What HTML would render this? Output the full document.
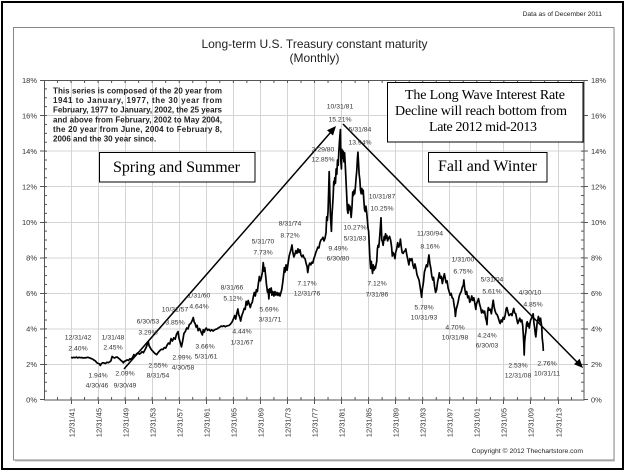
<!DOCTYPE html>
<html><head><meta charset="utf-8"><style>
html,body{margin:0;padding:0;background:#fff;}
svg{display:block;}
text{font-family:"Liberation Sans",Arial,sans-serif;}
.s{font-family:"Liberation Serif","Times New Roman",serif;fill:#000;}
.lb{font-size:6.8px;fill:#333;text-anchor:middle;}
.ax{font-size:7.5px;fill:#333;}
</style></head><body>
<svg width="626" height="471" viewBox="0 0 626 471" xmlns="http://www.w3.org/2000/svg">
<defs>
<pattern id="tx" x="70.5" y="0" width="13.528" height="20" patternUnits="userSpaceOnUse"><rect x="0" y="0" width="1" height="20" fill="#555"/></pattern>
<pattern id="ty" x="0" y="79.5" width="20" height="8.889" patternUnits="userSpaceOnUse"><rect x="0" y="0" width="20" height="1" fill="#555"/></pattern>
</defs>
<rect x="0" y="0" width="626" height="471" fill="#fff"/>
<rect x="2" y="2" width="621" height="467" fill="none" stroke="#000" stroke-width="2"/>
<rect x="13.5" y="27.5" width="600.5" height="432.5" fill="none" stroke="#888" stroke-width="1"/>
<line x1="614.5" y1="29" x2="614.5" y2="461" stroke="#bbb" stroke-width="1"/>
<line x1="15" y1="461" x2="615" y2="461" stroke="#bbb" stroke-width="1"/>

<text x="602" y="16" font-size="6.7" fill="#222" text-anchor="end">Data as of December 2011</text>
<text x="314.5" y="48" font-size="12" fill="#222" text-anchor="middle">Long-term U.S. Treasury constant maturity</text>
<text x="314.5" y="62" font-size="12" fill="#222" text-anchor="middle">(Monthly)</text>

<!-- grid -->
<g stroke="#d4d4d4" stroke-width="1">
<line x1="44" y1="364.5" x2="584" y2="364.5"/><line x1="44" y1="329" x2="584" y2="329"/>
<line x1="44" y1="293.5" x2="584" y2="293.5"/><line x1="44" y1="258" x2="584" y2="258"/>
<line x1="44" y1="222.5" x2="584" y2="222.5"/><line x1="44" y1="186.5" x2="584" y2="186.5"/>
<line x1="44" y1="151" x2="584" y2="151"/><line x1="44" y1="115.5" x2="584" y2="115.5"/>
<line x1="71.5" y1="80" x2="71.5" y2="400"/><line x1="98.5" y1="80" x2="98.5" y2="400"/>
<line x1="125.5" y1="80" x2="125.5" y2="400"/><line x1="152.5" y1="80" x2="152.5" y2="400"/>
<line x1="179.5" y1="80" x2="179.5" y2="400"/><line x1="206.5" y1="80" x2="206.5" y2="400"/>
<line x1="233.5" y1="80" x2="233.5" y2="400"/><line x1="260.5" y1="80" x2="260.5" y2="400"/>
<line x1="287.5" y1="80" x2="287.5" y2="400"/><line x1="314.5" y1="80" x2="314.5" y2="400"/>
<line x1="341.5" y1="80" x2="341.5" y2="400"/><line x1="368.5" y1="80" x2="368.5" y2="400"/>
<line x1="395.5" y1="80" x2="395.5" y2="400"/><line x1="422.5" y1="80" x2="422.5" y2="400"/>
<line x1="449.5" y1="80" x2="449.5" y2="400"/><line x1="476.5" y1="80" x2="476.5" y2="400"/>
<line x1="503.5" y1="80" x2="503.5" y2="400"/><line x1="530.5" y1="80" x2="530.5" y2="400"/>
<line x1="558.5" y1="80" x2="558.5" y2="400"/>
</g>

<!-- ticks -->
<rect x="44" y="397" width="540" height="3" fill="url(#tx)"/>
<rect x="44" y="80" width="540" height="3" fill="url(#tx)"/>
<rect x="44" y="80" width="3" height="320" fill="url(#ty)"/>
<rect x="581" y="80" width="3" height="320" fill="url(#ty)"/>
<g stroke="#555" stroke-width="1">
<path d="M40 80.5H44M40 115.5H44M40 151H44M40 186.5H44M40 222.5H44M40 258H44M40 293.5H44M40 329H44M40 364.5H44M40 399.5H44"/>
<path d="M584 80.5H588M584 115.5H588M584 151H588M584 186.5H588M584 222.5H588M584 258H588M584 293.5H588M584 329H588M584 364.5H588M584 399.5H588"/>
<path d="M71.5 400V404M98.5 400V404M125.5 400V404M152.5 400V404M179.5 400V404M206.5 400V404M233.5 400V404M260.5 400V404M287.5 400V404M314.5 400V404M341.5 400V404M368.5 400V404M395.5 400V404M422.5 400V404M449.5 400V404M476.5 400V404M503.5 400V404M530.5 400V404M558.5 400V404"/>
</g>
<rect x="44.5" y="80.5" width="539.5" height="319.5" fill="none" stroke="#555" stroke-width="1"/>

<!-- y labels -->
<g class="ax" text-anchor="end">
<text x="37" y="83">18%</text><text x="37" y="118.5">16%</text><text x="37" y="154">14%</text>
<text x="37" y="189.5">12%</text><text x="37" y="225">10%</text><text x="37" y="260.5">8%</text>
<text x="37" y="296">6%</text><text x="37" y="331.5">4%</text><text x="37" y="367">2%</text><text x="37" y="402.5">0%</text>
</g>
<g class="ax">
<text x="591" y="83">18%</text><text x="591" y="118.5">16%</text><text x="591" y="154">14%</text>
<text x="591" y="189.5">12%</text><text x="591" y="225">10%</text><text x="591" y="260.5">8%</text>
<text x="591" y="296">6%</text><text x="591" y="331.5">4%</text><text x="591" y="367">2%</text><text x="591" y="402.5">0%</text>
</g>
<!-- x labels -->
<g class="ax" text-anchor="end">
<text transform="translate(74.3 408) rotate(-90)">12/31/41</text>
<text transform="translate(101.3 408) rotate(-90)">12/31/45</text>
<text transform="translate(128.3 408) rotate(-90)">12/31/49</text>
<text transform="translate(155.3 408) rotate(-90)">12/31/53</text>
<text transform="translate(182.3 408) rotate(-90)">12/31/57</text>
<text transform="translate(209.3 408) rotate(-90)">12/31/61</text>
<text transform="translate(236.3 408) rotate(-90)">12/31/65</text>
<text transform="translate(263.3 408) rotate(-90)">12/31/69</text>
<text transform="translate(290.3 408) rotate(-90)">12/31/73</text>
<text transform="translate(317.3 408) rotate(-90)">12/31/77</text>
<text transform="translate(344.3 408) rotate(-90)">12/31/81</text>
<text transform="translate(371.3 408) rotate(-90)">12/31/85</text>
<text transform="translate(398.3 408) rotate(-90)">12/31/89</text>
<text transform="translate(425.3 408) rotate(-90)">12/31/93</text>
<text transform="translate(452.3 408) rotate(-90)">12/31/97</text>
<text transform="translate(479.3 408) rotate(-90)">12/31/01</text>
<text transform="translate(506.3 408) rotate(-90)">12/31/05</text>
<text transform="translate(533.3 408) rotate(-90)">12/31/09</text>
<text transform="translate(561.3 408) rotate(-90)">12/31/13</text>
</g>
<text x="583" y="453" font-size="6.8" fill="#222" text-anchor="end">Copyright © 2012 Thechartstore.com</text>

<!-- info text -->
<g font-size="8" font-weight="bold" fill="#222">
<text x="53" y="93.5" textLength="169" lengthAdjust="spacing">This series is composed of the 20 year from</text>
<text x="53" y="103.1" textLength="169" lengthAdjust="spacing">1941 to January, 1977, the 30 year from</text>
<text x="53" y="112.7" textLength="169" lengthAdjust="spacing">February, 1977 to January, 2002, the 25 years</text>
<text x="53" y="122.3" textLength="169" lengthAdjust="spacing">and above from February, 2002 to May 2004,</text>
<text x="53" y="131.9" textLength="169" lengthAdjust="spacing">the 20 year from June, 2004 to February 8,</text>
<text x="53" y="141.5">2006 and the 30 year since.</text>
</g>

<!-- series -->
<polyline fill="none" stroke="#000" stroke-width="1.7" stroke-linejoin="round" vector-effect="non-scaling-stroke"
transform="translate(71 400) scale(6.764 -17.778) translate(-1942 0)"
points="1942,2.40 1942.2,2.37 1942.4,2.40 1942.6,2.38 1942.8,2.41 1943,2.37 1943.2,2.40 1943.4,2.38 1943.6,2.39 1943.8,2.36 1944,2.38 1944.2,2.37 1944.4,2.40 1944.6,2.39 1944.8,2.36 1945,2.33 1945.2,2.30 1945.4,2.24 1945.6,2.20 1945.8,2.10 1946,2.06 1946.2,2.03 1946.33,1.94 1946.5,2.05 1946.7,2.10 1946.9,2.08 1947.1,2.05 1947.3,2.12 1947.5,2.10 1947.7,2.14 1947.9,2.20 1948.08,2.45 1948.25,2.40 1948.45,2.36 1948.6,2.40 1948.8,2.42 1949,2.36 1949.2,2.30 1949.4,2.22 1949.6,2.16 1949.75,2.09 1949.9,2.18 1950.1,2.20 1950.3,2.26 1950.5,2.22 1950.7,2.32 1950.9,2.28 1951.1,2.40 1951.3,2.55 1951.5,2.48 1951.7,2.60 1951.9,2.65 1952.1,2.58 1952.3,2.62 1952.5,2.72 1952.7,2.66 1952.9,2.80 1953.1,2.95 1953.25,3.10 1953.42,3.29 1953.55,3.05 1953.7,2.95 1953.85,2.85 1954,2.78 1954.2,2.70 1954.4,2.62 1954.67,2.55 1954.85,2.65 1955,2.72 1955.2,2.80 1955.4,2.86 1955.6,2.84 1955.8,2.95 1956,2.92 1956.2,3.08 1956.4,3.20 1956.6,3.15 1956.8,3.45 1957,3.32 1957.2,3.50 1957.4,3.42 1957.6,3.70 1957.83,3.85 1957.95,3.50 1958.1,3.30 1958.33,2.99 1958.5,3.30 1958.7,3.75 1958.9,3.85 1959.1,4.05 1959.3,4.00 1959.5,4.25 1959.7,4.30 1959.9,4.45 1960.08,4.64 1960.2,4.40 1960.35,4.30 1960.5,4.10 1960.65,4.20 1960.8,3.90 1961,4.02 1961.2,3.85 1961.42,3.66 1961.55,3.95 1961.7,3.82 1961.85,3.98 1962,4.05 1962.2,3.92 1962.4,3.98 1962.6,3.88 1962.8,3.95 1963,3.88 1963.2,3.94 1963.4,3.98 1963.6,4.00 1963.8,4.06 1964,4.10 1964.2,4.16 1964.4,4.13 1964.6,4.18 1964.8,4.12 1965,4.16 1965.2,4.18 1965.4,4.20 1965.6,4.28 1965.8,4.38 1966,4.55 1966.2,4.75 1966.35,4.55 1966.5,4.85 1966.67,5.12 1966.8,4.80 1966.95,4.65 1967.08,4.44 1967.25,4.75 1967.45,4.95 1967.6,5.15 1967.75,5.10 1967.9,5.55 1968.05,5.35 1968.2,5.60 1968.35,5.40 1968.5,5.20 1968.65,5.40 1968.8,5.50 1968.95,5.80 1969.1,6.05 1969.25,5.85 1969.4,6.20 1969.55,6.10 1969.7,6.55 1969.85,6.95 1970,6.70 1970.15,6.90 1970.3,7.20 1970.42,7.73 1970.55,7.25 1970.65,7.45 1970.8,6.90 1970.9,6.50 1971.05,6.05 1971.15,6.20 1971.25,5.69 1971.35,6.25 1971.5,6.05 1971.6,6.30 1971.7,5.90 1971.85,6.10 1972,5.85 1972.15,6.10 1972.3,5.90 1972.45,6.05 1972.6,5.88 1972.75,6.02 1972.9,5.85 1973,6.00 1973.15,6.20 1973.3,6.60 1973.45,7.10 1973.55,7.45 1973.65,7.20 1973.8,7.60 1973.95,7.30 1974.1,7.70 1974.25,8.10 1974.4,8.30 1974.55,8.50 1974.67,8.72 1974.8,8.30 1974.95,8.05 1975.1,8.20 1975.25,8.40 1975.4,8.25 1975.55,8.50 1975.7,8.30 1975.85,8.45 1976,8.15 1976.15,8.05 1976.3,8.15 1976.45,8.00 1976.6,7.95 1976.75,7.70 1976.9,7.50 1977,7.17 1977.15,7.55 1977.3,7.70 1977.45,7.60 1977.6,7.75 1977.75,7.70 1977.9,7.95 1978.05,8.10 1978.2,8.30 1978.35,8.45 1978.5,8.60 1978.65,8.55 1978.8,8.85 1978.95,9.00 1979.1,9.05 1979.25,9.15 1979.4,8.95 1979.55,9.10 1979.7,9.40 1979.8,10.30 1979.9,10.10 1980,10.60 1980.08,11.60 1980.17,12.85 1980.25,11.80 1980.35,10.40 1980.5,9.49 1980.58,10.40 1980.67,10.90 1980.75,11.40 1980.85,12.30 1980.92,12.10 1981,12.50 1981.1,12.20 1981.2,13.00 1981.3,12.70 1981.4,13.50 1981.5,13.20 1981.6,14.00 1981.7,14.60 1981.83,15.21 1981.9,13.40 1981.98,13.00 1982.05,14.10 1982.15,13.60 1982.25,14.00 1982.35,13.40 1982.45,13.90 1982.55,13.20 1982.65,12.40 1982.75,11.60 1982.85,10.70 1982.95,10.50 1983.05,11.00 1983.15,10.70 1983.25,10.90 1983.42,10.27 1983.55,10.90 1983.65,11.70 1983.75,11.50 1983.85,11.80 1983.95,11.60 1984.05,12.00 1984.15,12.50 1984.25,12.90 1984.35,13.60 1984.42,13.94 1984.5,13.40 1984.6,12.70 1984.7,12.40 1984.8,11.80 1984.9,11.60 1985,11.90 1985.1,11.60 1985.2,11.80 1985.3,11.20 1985.4,10.70 1985.5,10.60 1985.6,10.90 1985.7,10.60 1985.8,10.20 1985.9,9.70 1986,9.50 1986.1,8.70 1986.2,7.90 1986.3,7.40 1986.4,7.80 1986.5,7.40 1986.58,7.12 1986.68,7.60 1986.78,7.30 1986.9,7.50 1987,7.40 1987.1,7.60 1987.2,7.80 1987.3,8.50 1987.4,8.70 1987.5,8.60 1987.6,9.00 1987.7,9.50 1987.83,10.25 1987.95,9.00 1988.05,8.90 1988.15,8.70 1988.3,9.20 1988.4,9.00 1988.5,9.35 1988.6,9.10 1988.7,9.25 1988.8,8.95 1988.95,9.10 1989.1,9.20 1989.25,9.00 1989.4,8.60 1989.5,8.10 1989.6,8.30 1989.75,8.20 1989.9,7.95 1990,8.30 1990.15,8.50 1990.3,8.85 1990.45,8.60 1990.6,8.75 1990.7,9.05 1990.8,8.70 1990.95,8.30 1991.1,8.25 1991.25,8.35 1991.4,8.40 1991.5,8.50 1991.65,8.15 1991.8,7.90 1991.95,7.60 1992.1,7.95 1992.25,7.85 1992.4,7.95 1992.55,7.60 1992.7,7.40 1992.85,7.65 1993,7.40 1993.15,7.05 1993.3,6.90 1993.45,6.75 1993.6,6.40 1993.72,6.10 1993.83,5.78 1993.95,6.25 1994.1,6.60 1994.25,7.20 1994.4,7.40 1994.55,7.60 1994.7,7.50 1994.82,7.90 1994.92,8.16 1995.05,7.70 1995.2,7.40 1995.35,6.95 1995.5,6.75 1995.6,6.90 1995.75,6.40 1995.9,6.05 1996.05,6.20 1996.2,6.65 1996.35,6.90 1996.45,7.15 1996.6,6.85 1996.75,6.95 1996.9,6.55 1997.05,6.85 1997.2,7.10 1997.3,6.90 1997.45,6.60 1997.6,6.70 1997.75,6.30 1997.9,6.10 1998.05,5.90 1998.2,6.00 1998.35,5.75 1998.5,5.70 1998.65,5.30 1998.75,5.10 1998.83,4.70 1998.95,5.10 1999.1,5.30 1999.25,5.55 1999.4,5.85 1999.55,6.00 1999.7,6.10 1999.85,6.35 2000,6.45 2000.08,6.75 2000.2,6.30 2000.35,5.95 2000.5,6.10 2000.65,5.75 2000.8,5.85 2000.95,5.50 2001.1,5.60 2001.25,5.85 2001.4,5.60 2001.55,5.75 2001.7,5.45 2001.85,5.10 2001.95,5.40 2002.1,5.55 2002.25,5.70 2002.4,5.40 2002.55,5.20 2002.7,4.90 2002.85,5.05 2003,4.90 2003.15,5.00 2003.3,4.60 2003.42,4.45 2003.5,4.24 2003.6,4.95 2003.7,5.20 2003.85,5.05 2004,5.10 2004.15,4.85 2004.3,5.30 2004.42,5.61 2004.55,5.25 2004.7,5.00 2004.85,4.85 2005,4.80 2005.15,4.65 2005.3,4.45 2005.45,4.30 2005.6,4.50 2005.75,4.40 2005.9,4.65 2006.05,4.55 2006.2,4.80 2006.35,5.15 2006.45,5.20 2006.6,4.95 2006.75,4.75 2006.9,4.80 2007.05,4.85 2007.2,4.75 2007.35,5.00 2007.45,5.15 2007.6,4.90 2007.75,4.85 2007.9,4.55 2008.05,4.30 2008.2,4.45 2008.35,4.60 2008.5,4.40 2008.65,4.50 2008.78,4.20 2008.88,3.60 2008.95,3.10 2009,2.53 2009.06,3.20 2009.15,3.60 2009.25,3.85 2009.35,4.30 2009.45,4.40 2009.55,4.15 2009.65,4.30 2009.75,4.05 2009.85,4.30 2009.95,4.50 2010.1,4.60 2010.2,4.70 2010.33,4.85 2010.45,4.30 2010.55,4.05 2010.65,3.70 2010.72,3.55 2010.82,3.95 2010.9,4.30 2011,4.45 2011.1,4.70 2011.2,4.55 2011.3,4.40 2011.42,4.60 2011.52,4.30 2011.6,4.10 2011.66,3.50 2011.72,3.30 2011.78,3.10 2011.83,2.76"/>

<!-- trend arrows -->
<g stroke="#000" stroke-width="1.5" fill="none">
<line x1="124" y1="369" x2="330.5" y2="132.5"/>
<line x1="343" y1="124" x2="577" y2="362"/>
</g>
<polygon points="336,126 333,135.5 327,130.3" fill="#000"/>
<polygon points="583,368 579.6,358.8 574,364.3" fill="#000"/>

<!-- annotations -->
<g class="lb">
<text x="78" y="339.4">12/31/42</text><text x="78" y="350.4">2.40%</text>
<text x="113" y="339.4">1/31/48</text><text x="113" y="349.4">2.45%</text>
<text x="98" y="377.4">1.94%</text><text x="97" y="387.4">4/30/46</text>
<text x="125" y="375.4">2.09%</text><text x="125" y="387.4">9/30/49</text>
<text x="148" y="323.4">6/30/53</text><text x="148" y="334.4">3.29%</text>
<text x="158" y="367.4">2.55%</text><text x="158" y="377.4">8/31/54</text>
<text x="175" y="311.4">10/31/57</text><text x="175" y="324.4">3.85%</text>
<text x="199" y="297.4">1/31/60</text><text x="199" y="308.4">4.64%</text>
<text x="182" y="359.4">2.99%</text><text x="183" y="369.4">4/30/58</text>
<text x="205" y="348.4">3.66%</text><text x="206" y="358.4">5/31/61</text>
<text x="242" y="333.4">4.44%</text><text x="242" y="344.4">1/31/67</text>
<text x="232" y="289.4">8/31/66</text><text x="233" y="300.4">5.12%</text>
<text x="269" y="311.4">5.69%</text><text x="270" y="321.4">3/31/71</text>
<text x="263" y="243.4">5/31/70</text><text x="263" y="254.4">7.73%</text>
<text x="290" y="225.4">8/31/74</text><text x="290" y="237.4">8.72%</text>
<text x="307" y="285.4">7.17%</text><text x="307" y="295.4">12/31/76</text>
<text x="338" y="250.4">9.49%</text><text x="338" y="260.4">6/30/80</text>
<text x="355" y="229.4">10.27%</text><text x="355" y="240.4">5/31/83</text>
<text x="377" y="285.4">7.12%</text><text x="377" y="296.4">7/31/86</text>
<text x="382" y="198.4">10/31/87</text><text x="382" y="210.4">10.25%</text>
<text x="323" y="151.4">2/29/80</text><text x="323" y="161.4">12.85%</text>
<text x="340" y="108.4">10/31/81</text><text x="340" y="121.4">15.21%</text>
<text x="360" y="131.4">5/31/84</text><text x="360" y="144.4">13.94%</text>
<text x="430" y="235.4">11/30/94</text><text x="430" y="248.4">8.16%</text>
<text x="424" y="309.4">5.78%</text><text x="424" y="319.4">10/31/93</text>
<text x="463" y="261.4">1/31/00</text><text x="463" y="273.4">6.75%</text>
<text x="455" y="329.4">4.70%</text><text x="455" y="339.4">10/31/98</text>
<text x="492" y="281.4">5/31/04</text><text x="492" y="293.4">5.61%</text>
<text x="487" y="337.4">4.24%</text><text x="487" y="347.4">6/30/03</text>
<text x="530" y="294.4">4/30/10</text><text x="533" y="306.4">4.85%</text>
<text x="518" y="367.4">2.53%</text><text x="518" y="377.4">12/31/08</text>
<text x="547" y="365.4">2.76%</text><text x="547" y="375.4">10/31/11</text>
</g>

<!-- boxes -->
<rect x="99.5" y="152.5" width="155.5" height="29.5" fill="#fff" stroke="#000" stroke-width="1"/>
<text class="s" x="113" y="172" font-size="16" textLength="127" lengthAdjust="spacing">Spring and Summer</text>
<rect x="428.5" y="152.5" width="118.5" height="29.5" fill="#fff" stroke="#000" stroke-width="1"/>
<text class="s" x="438" y="171" font-size="16" textLength="99" lengthAdjust="spacing">Fall and Winter</text>
<rect x="387.5" y="82.5" width="195.5" height="59.5" fill="#fff" stroke="#000" stroke-width="1"/>
<text class="s" x="405" y="99" font-size="14" textLength="160" lengthAdjust="spacing">The Long Wave Interest Rate</text>
<text class="s" x="395" y="115" font-size="14" textLength="172" lengthAdjust="spacing">Decline will reach bottom from</text>
<text class="s" x="429" y="131" font-size="14" textLength="108" lengthAdjust="spacing">Late 2012 mid-2013</text>
</svg>
</body></html>
